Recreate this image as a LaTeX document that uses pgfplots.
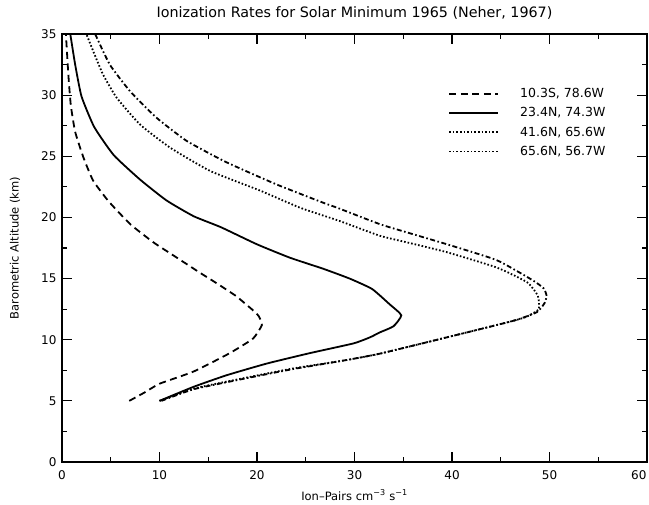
\documentclass[border=0pt]{standalone}
\usepackage{fontspec}
\setmainfont{DejaVu Sans}
\usepackage{pgfplots}
\pgfplotsset{compat=1.18}
\usepackage{pgfplotstable}

\pgfplotstableread{
x y
6.9 5.0
8.5 5.7
10.0 6.4
13.5 7.4
17.2 8.9
19.6 10.1
20.5 11.2
20.2 11.9
19.6 12.4
17.8 13.6
15.5 14.8
14.1 15.5
11.8 16.7
9.4 17.95
7.0 19.45
4.8 21.3
3.2 23.0
2.2 24.9
1.35 27.0
0.9 29.2
0.65 31.7
0.4 35.0
}\dataA

\pgfplotstableread{
x y
10.0 5.0
13.5 6.15
16.9 7.1
21.0 8.05
25.4 8.9
29.9 9.7
31.6 10.2
32.6 10.6
34.0 11.1
34.8 12.0
33.6 12.9
31.8 14.15
29.5 15.0
26.8 15.8
23.4 16.7
20.0 17.8
16.3 19.2
13.5 20.1
10.7 21.4
8.0 23.1
5.3 25.1
3.3 27.4
2.0 29.9
1.35 32.5
0.85 35.0
}\dataB

\pgfplotstableread{
x y
10.0 5.0
13.5 6.0
18.6 6.85
23.7 7.65
28.9 8.3
32.6 8.86
39.5 10.2
46.3 11.55
47.7 11.9
48.9 12.5
48.8 13.6
47.7 14.7
44.6 15.9
39.5 17.15
35.7 17.9
32.6 18.5
28.5 19.7
24.4 20.8
20.3 22.2
15.2 23.8
11.1 25.7
8.0 27.6
5.6 29.8
4.2 31.7
3.2 33.6
2.5 35.0
}\dataC

\pgfplotstableread{
x y
10.2 5.0
13.5 5.95
18.6 6.8
23.7 7.6
28.9 8.3
32.6 8.86
39.5 10.2
46.3 11.55
48.7 12.25
49.5 13.0
49.7 13.6
49.4 14.2
48.3 14.85
44.6 16.5
39.5 17.8
35.7 18.7
32.6 19.45
28.2 20.8
26.8 21.2
22.0 22.7
16.9 24.5
12.8 26.25
9.7 28.15
7.0 30.3
4.9 32.5
3.4 35.0
}\dataD

\begin{document}
\begin{tikzpicture}
\begin{axis}[
  name=ax,
  scale only axis, width=585pt, height=428pt,
  xmin=0, xmax=60, ymin=0, ymax=35,
  xtick={0,10,...,50}, ytick={0,5,...,35},
  extra x ticks={60},
  extra x tick style={xticklabel style={anchor=north east, xshift=3pt}},
  minor xtick={5,15,...,55}, minor y tick num=1,
  major tick length=10pt, minor tick length=5pt,
  tick style={line width=1.2pt, black},
  axis line style={line width=1.5pt},
  /pgf/number format/assume math mode=true,
  tick label style={font=\fontsize{12}{14}\selectfont},
  yticklabel style={xshift=-2pt},
  xticklabel style={yshift=-5pt},
  title={Ionization Rates for Solar Minimum 1965 (Neher, 1967)},
  title style={font=\fontsize{14.3}{16}\selectfont, at={(axis description cs:0.5,1)}, anchor=base, yshift=10pt},
  xlabel={Ion–Pairs cm\textsuperscript{−3} s\textsuperscript{−1}},
  xlabel style={font=\fontsize{11.5}{13}\selectfont, at={(axis description cs:0.5,-0.0775)}, anchor=center},
  ylabel={Barometric Altitude (km)},
  ylabel style={font=\fontsize{11.5}{13}\selectfont, at={(axis description cs:-0.0803,0.5)}, anchor=center, rotate=0},
  legend image code/.code={\draw[#1] (0pt,0pt) -- (49pt,0pt);},
  legend style={at={(0.655,0.883)}, anchor=north west, draw=none, fill=none,
    font=\fontsize{12.5}{14}\selectfont, row sep=4.5pt,
    /tikz/every odd column/.append style={column sep=19pt}},
  legend cell align=left,
  every axis plot/.append style={smooth, tension=0.3},
]
\addplot[black, line width=1.8pt, dash pattern=on 7pt off 4.5pt] table {\dataA};
\addlegendentry{10.3S, 78.6W}
\addplot[black, line width=1.8pt] table {\dataB};
\addlegendentry{23.4N, 74.3W}
\addplot[black, line width=1.8pt, dash pattern=on 1.6pt off 2pt] table {\dataC};
\addlegendentry{41.6N, 65.6W}
\addplot[black, line width=1.8pt, dash pattern=on 5pt off 2.5pt on 1.6pt off 2.5pt, forget plot] table {\dataD};
\addlegendimage{black, line width=1.8pt, dash pattern=on 1.6pt off 2pt}
\addlegendentry{65.6N, 56.7W}
\end{axis}
\pgfresetboundingbox
\path ([xshift=-62pt,yshift=-42pt]ax.south west) rectangle ([xshift=2pt,yshift=34pt]ax.north east);
\end{tikzpicture}
\end{document}
